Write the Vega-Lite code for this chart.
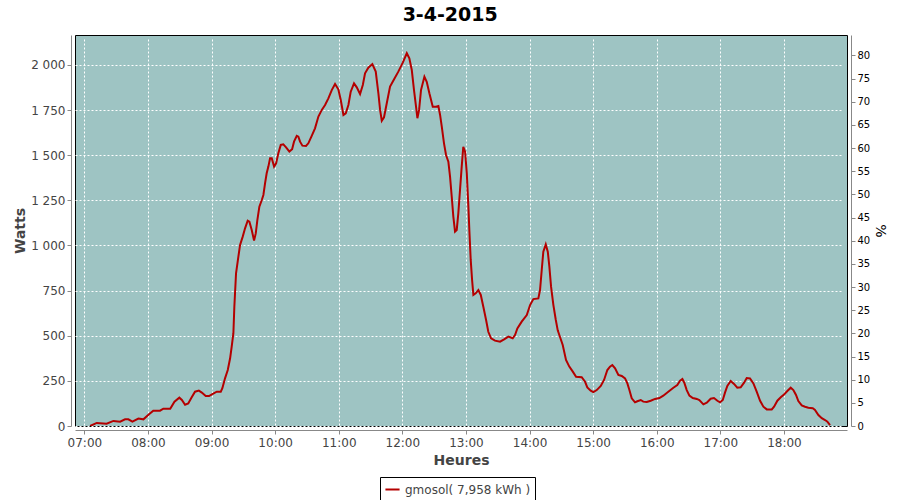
{
  "$schema": "https://vega.github.io/schema/vega-lite/v6.json",
  "width": 772,
  "height": 391,
  "autosize": {"type": "none"},
  "padding": {"left": 75, "top": 35, "right": 53, "bottom": 74},
  "background": "white",
  "config": {
    "locale": {"number": {"decimal": ",", "thousands": " ", "grouping": [3], "currency": ["", " €"]}},
    "view": {"fill": "#9ec4c3", "stroke": "#000000", "strokeWidth": 1},
    "font": "DejaVu Sans",
    "axis": {
      "labelFont": "DejaVu Sans",
      "titleFont": "DejaVu Sans",
      "labelFontSize": 12,
      "labelColor": "#444444",
      "titleColor": "#444444",
      "titleFontSize": 14,
      "titleFontWeight": "bold",
      "domainColor": "#888888",
      "tickColor": "#888888",
      "tickSize": 4,
      "offset": 4,
      "gridColor": "#ffffff",
      "gridDash": [2, 2],
      "gridWidth": 1,
      "gridOpacity": 1
    }
  },
  "title": {"text": "3-4-2015", "fontSize": 19, "fontWeight": "bold", "font": "DejaVu Sans", "color": "#000000", "offset": 10, "anchor": "middle", "frame": "bounds"},
  "data": {"values": [
    {"t":"2015-04-03T07:05:24","w":0},
    {"t":"2015-04-03T07:11:42","w":17},
    {"t":"2015-04-03T07:21:00","w":13},
    {"t":"2015-04-03T07:27:24","w":28},
    {"t":"2015-04-03T07:33:42","w":24},
    {"t":"2015-04-03T07:38:24","w":37},
    {"t":"2015-04-03T07:41:30","w":37},
    {"t":"2015-04-03T07:45:18","w":24},
    {"t":"2015-04-03T07:51:00","w":41},
    {"t":"2015-04-03T07:55:42","w":37},
    {"t":"2015-04-03T08:01:00","w":65},
    {"t":"2015-04-03T08:05:00","w":85},
    {"t":"2015-04-03T08:11:24","w":85},
    {"t":"2015-04-03T08:14:30","w":96},
    {"t":"2015-04-03T08:21:00","w":96},
    {"t":"2015-04-03T08:25:00","w":135},
    {"t":"2015-04-03T08:29:36","w":157},
    {"t":"2015-04-03T08:32:00","w":144},
    {"t":"2015-04-03T08:35:00","w":118},
    {"t":"2015-04-03T08:38:00","w":125},
    {"t":"2015-04-03T08:41:00","w":157},
    {"t":"2015-04-03T08:44:24","w":190},
    {"t":"2015-04-03T08:48:00","w":196},
    {"t":"2015-04-03T08:50:48","w":185},
    {"t":"2015-04-03T08:54:30","w":166},
    {"t":"2015-04-03T08:57:36","w":166},
    {"t":"2015-04-03T09:00:48","w":177},
    {"t":"2015-04-03T09:04:54","w":190},
    {"t":"2015-04-03T09:08:42","w":190},
    {"t":"2015-04-03T09:10:12","w":209},
    {"t":"2015-04-03T09:12:42","w":264},
    {"t":"2015-04-03T09:15:18","w":310},
    {"t":"2015-04-03T09:17:30","w":375},
    {"t":"2015-04-03T09:19:00","w":440},
    {"t":"2015-04-03T09:20:36","w":514},
    {"t":"2015-04-03T09:21:30","w":661},
    {"t":"2015-04-03T09:23:06","w":846},
    {"t":"2015-04-03T09:25:18","w":938},
    {"t":"2015-04-03T09:26:54","w":1003},
    {"t":"2015-04-03T09:29:24","w":1049},
    {"t":"2015-04-03T09:31:36","w":1095},
    {"t":"2015-04-03T09:34:06","w":1137},
    {"t":"2015-04-03T09:35:42","w":1132},
    {"t":"2015-04-03T09:37:54","w":1086},
    {"t":"2015-04-03T09:40:06","w":1027},
    {"t":"2015-04-03T09:41:42","w":1067},
    {"t":"2015-04-03T09:43:12","w":1141},
    {"t":"2015-04-03T09:45:06","w":1215},
    {"t":"2015-04-03T09:47:24","w":1252},
    {"t":"2015-04-03T09:48:54","w":1280},
    {"t":"2015-04-03T09:50:30","w":1345},
    {"t":"2015-04-03T09:52:00","w":1400},
    {"t":"2015-04-03T09:53:36","w":1437},
    {"t":"2015-04-03T09:55:12","w":1483},
    {"t":"2015-04-03T09:56:48","w":1483},
    {"t":"2015-04-03T09:59:00","w":1437},
    {"t":"2015-04-03T10:00:54","w":1455},
    {"t":"2015-04-03T10:03:00","w":1511},
    {"t":"2015-04-03T10:05:18","w":1557},
    {"t":"2015-04-03T10:07:42","w":1560},
    {"t":"2015-04-03T10:10:18","w":1544},
    {"t":"2015-04-03T10:13:24","w":1520},
    {"t":"2015-04-03T10:16:00","w":1533},
    {"t":"2015-04-03T10:17:48","w":1575},
    {"t":"2015-04-03T10:20:24","w":1607},
    {"t":"2015-04-03T10:21:54","w":1603},
    {"t":"2015-04-03T10:23:30","w":1575},
    {"t":"2015-04-03T10:25:42","w":1553},
    {"t":"2015-04-03T10:29:06","w":1551},
    {"t":"2015-04-03T10:31:18","w":1566},
    {"t":"2015-04-03T10:34:30","w":1607},
    {"t":"2015-04-03T10:37:36","w":1649},
    {"t":"2015-04-03T10:40:48","w":1714},
    {"t":"2015-04-03T10:44:00","w":1751},
    {"t":"2015-04-03T10:47:06","w":1778},
    {"t":"2015-04-03T10:50:12","w":1815},
    {"t":"2015-04-03T10:53:24","w":1861},
    {"t":"2015-04-03T10:56:30","w":1895},
    {"t":"2015-04-03T10:59:36","w":1865},
    {"t":"2015-04-03T11:01:54","w":1806},
    {"t":"2015-04-03T11:04:24","w":1723},
    {"t":"2015-04-03T11:06:36","w":1732},
    {"t":"2015-04-03T11:09:06","w":1778},
    {"t":"2015-04-03T11:11:18","w":1852},
    {"t":"2015-04-03T11:14:24","w":1898},
    {"t":"2015-04-03T11:17:00","w":1876},
    {"t":"2015-04-03T11:20:06","w":1839},
    {"t":"2015-04-03T11:22:42","w":1889},
    {"t":"2015-04-03T11:24:48","w":1954},
    {"t":"2015-04-03T11:27:54","w":1985},
    {"t":"2015-04-03T11:31:42","w":2005},
    {"t":"2015-04-03T11:34:54","w":1963},
    {"t":"2015-04-03T11:37:24","w":1843},
    {"t":"2015-04-03T11:39:00","w":1751},
    {"t":"2015-04-03T11:40:36","w":1691},
    {"t":"2015-04-03T11:42:42","w":1710},
    {"t":"2015-04-03T11:45:18","w":1788},
    {"t":"2015-04-03T11:48:24","w":1880},
    {"t":"2015-04-03T11:52:12","w":1921},
    {"t":"2015-04-03T11:56:12","w":1963},
    {"t":"2015-04-03T12:00:24","w":2013},
    {"t":"2015-04-03T12:04:12","w":2065},
    {"t":"2015-04-03T12:06:36","w":2037},
    {"t":"2015-04-03T12:08:54","w":1972},
    {"t":"2015-04-03T12:11:00","w":1861},
    {"t":"2015-04-03T12:12:54","w":1769},
    {"t":"2015-04-03T12:14:12","w":1705},
    {"t":"2015-04-03T12:15:48","w":1751},
    {"t":"2015-04-03T12:17:36","w":1861},
    {"t":"2015-04-03T12:20:48","w":1935},
    {"t":"2015-04-03T12:23:00","w":1907},
    {"t":"2015-04-03T12:25:30","w":1843},
    {"t":"2015-04-03T12:28:42","w":1769},
    {"t":"2015-04-03T12:31:48","w":1769},
    {"t":"2015-04-03T12:34:00","w":1773},
    {"t":"2015-04-03T12:35:36","w":1723},
    {"t":"2015-04-03T12:37:12","w":1658},
    {"t":"2015-04-03T12:39:18","w":1566},
    {"t":"2015-04-03T12:41:12","w":1501},
    {"t":"2015-04-03T12:43:24","w":1464},
    {"t":"2015-04-03T12:45:00","w":1381},
    {"t":"2015-04-03T12:46:36","w":1270},
    {"t":"2015-04-03T12:48:06","w":1160},
    {"t":"2015-04-03T12:49:42","w":1077},
    {"t":"2015-04-03T12:51:18","w":1086},
    {"t":"2015-04-03T12:52:48","w":1178},
    {"t":"2015-04-03T12:54:24","w":1307},
    {"t":"2015-04-03T12:56:00","w":1437},
    {"t":"2015-04-03T12:57:30","w":1547},
    {"t":"2015-04-03T12:59:12","w":1520},
    {"t":"2015-04-03T13:00:48","w":1400},
    {"t":"2015-04-03T13:02:18","w":1215},
    {"t":"2015-04-03T13:03:12","w":1086},
    {"t":"2015-04-03T13:04:30","w":920},
    {"t":"2015-04-03T13:05:48","w":809},
    {"t":"2015-04-03T13:07:00","w":726},
    {"t":"2015-04-03T13:09:12","w":735},
    {"t":"2015-04-03T13:11:42","w":753},
    {"t":"2015-04-03T13:14:00","w":726},
    {"t":"2015-04-03T13:16:24","w":661},
    {"t":"2015-04-03T13:19:00","w":587},
    {"t":"2015-04-03T13:21:06","w":522},
    {"t":"2015-04-03T13:23:42","w":486},
    {"t":"2015-04-03T13:27:24","w":473},
    {"t":"2015-04-03T13:32:12","w":467},
    {"t":"2015-04-03T13:36:00","w":480},
    {"t":"2015-04-03T13:40:00","w":495},
    {"t":"2015-04-03T13:44:06","w":486},
    {"t":"2015-04-03T13:46:18","w":504},
    {"t":"2015-04-03T13:48:30","w":541},
    {"t":"2015-04-03T13:52:36","w":578},
    {"t":"2015-04-03T13:57:24","w":615},
    {"t":"2015-04-03T14:00:30","w":670},
    {"t":"2015-04-03T14:03:36","w":703},
    {"t":"2015-04-03T14:08:18","w":707},
    {"t":"2015-04-03T14:09:54","w":753},
    {"t":"2015-04-03T14:11:30","w":864},
    {"t":"2015-04-03T14:13:00","w":966},
    {"t":"2015-04-03T14:15:18","w":1006},
    {"t":"2015-04-03T14:17:12","w":966},
    {"t":"2015-04-03T14:18:42","w":883},
    {"t":"2015-04-03T14:20:18","w":772},
    {"t":"2015-04-03T14:22:30","w":670},
    {"t":"2015-04-03T14:24:42","w":590},
    {"t":"2015-04-03T14:26:36","w":530},
    {"t":"2015-04-03T14:28:06","w":504},
    {"t":"2015-04-03T14:31:18","w":449},
    {"t":"2015-04-03T14:34:24","w":366},
    {"t":"2015-04-03T14:37:30","w":329},
    {"t":"2015-04-03T14:40:48","w":301},
    {"t":"2015-04-03T14:43:54","w":273},
    {"t":"2015-04-03T14:49:12","w":270},
    {"t":"2015-04-03T14:52:24","w":245},
    {"t":"2015-04-03T14:54:30","w":214},
    {"t":"2015-04-03T14:57:42","w":196},
    {"t":"2015-04-03T15:00:12","w":188},
    {"t":"2015-04-03T15:03:24","w":199},
    {"t":"2015-04-03T15:07:12","w":222},
    {"t":"2015-04-03T15:10:18","w":255},
    {"t":"2015-04-03T15:13:24","w":310},
    {"t":"2015-04-03T15:15:54","w":329},
    {"t":"2015-04-03T15:18:06","w":338},
    {"t":"2015-04-03T15:20:42","w":320},
    {"t":"2015-04-03T15:23:48","w":283},
    {"t":"2015-04-03T15:27:00","w":277},
    {"t":"2015-04-03T15:30:06","w":264},
    {"t":"2015-04-03T15:32:18","w":236},
    {"t":"2015-04-03T15:34:12","w":199},
    {"t":"2015-04-03T15:36:24","w":153},
    {"t":"2015-04-03T15:39:30","w":131},
    {"t":"2015-04-03T15:41:42","w":137},
    {"t":"2015-04-03T15:44:54","w":144},
    {"t":"2015-04-03T15:47:18","w":135},
    {"t":"2015-04-03T15:50:36","w":133},
    {"t":"2015-04-03T15:54:18","w":140},
    {"t":"2015-04-03T15:58:24","w":150},
    {"t":"2015-04-03T16:02:30","w":155},
    {"t":"2015-04-03T16:06:12","w":168},
    {"t":"2015-04-03T16:10:54","w":190},
    {"t":"2015-04-03T16:15:42","w":212},
    {"t":"2015-04-03T16:19:24","w":227},
    {"t":"2015-04-03T16:22:00","w":251},
    {"t":"2015-04-03T16:24:12","w":260},
    {"t":"2015-04-03T16:26:00","w":240},
    {"t":"2015-04-03T16:28:18","w":199},
    {"t":"2015-04-03T16:30:48","w":168},
    {"t":"2015-04-03T16:34:00","w":155},
    {"t":"2015-04-03T16:37:48","w":150},
    {"t":"2015-04-03T16:40:12","w":144},
    {"t":"2015-04-03T16:44:00","w":120},
    {"t":"2015-04-03T16:47:12","w":129},
    {"t":"2015-04-03T16:50:54","w":151},
    {"t":"2015-04-03T16:54:00","w":155},
    {"t":"2015-04-03T16:57:12","w":140},
    {"t":"2015-04-03T16:59:42","w":131},
    {"t":"2015-04-03T17:02:18","w":144},
    {"t":"2015-04-03T17:04:24","w":185},
    {"t":"2015-04-03T17:06:36","w":222},
    {"t":"2015-04-03T17:09:48","w":249},
    {"t":"2015-04-03T17:12:54","w":233},
    {"t":"2015-04-03T17:16:00","w":212},
    {"t":"2015-04-03T17:19:12","w":214},
    {"t":"2015-04-03T17:22:24","w":240},
    {"t":"2015-04-03T17:24:54","w":266},
    {"t":"2015-04-03T17:28:00","w":264},
    {"t":"2015-04-03T17:31:12","w":236},
    {"t":"2015-04-03T17:34:18","w":190},
    {"t":"2015-04-03T17:37:30","w":140},
    {"t":"2015-04-03T17:40:36","w":107},
    {"t":"2015-04-03T17:43:48","w":92},
    {"t":"2015-04-03T17:48:30","w":92},
    {"t":"2015-04-03T17:50:42","w":107},
    {"t":"2015-04-03T17:53:48","w":140},
    {"t":"2015-04-03T17:57:00","w":159},
    {"t":"2015-04-03T18:00:06","w":175},
    {"t":"2015-04-03T18:03:12","w":194},
    {"t":"2015-04-03T18:06:24","w":212},
    {"t":"2015-04-03T18:08:54","w":199},
    {"t":"2015-04-03T18:11:24","w":172},
    {"t":"2015-04-03T18:13:36","w":138},
    {"t":"2015-04-03T18:16:48","w":114},
    {"t":"2015-04-03T18:19:54","w":107},
    {"t":"2015-04-03T18:23:00","w":101},
    {"t":"2015-04-03T18:27:12","w":98},
    {"t":"2015-04-03T18:29:18","w":89},
    {"t":"2015-04-03T18:32:30","w":61},
    {"t":"2015-04-03T18:35:42","w":43},
    {"t":"2015-04-03T18:38:48","w":33},
    {"t":"2015-04-03T18:41:00","w":24},
    {"t":"2015-04-03T18:43:30","w":5}
  ]},
  "layer": [
    {
      "mark": {"type": "line", "strokeWidth": 2, "clip": true},
      "encoding": {
        "x": {
          "field": "t", "type": "temporal",
          "scale": {"domain": [
            {"year": 2015, "month": 4, "date": 3, "hours": 6, "minutes": 51, "seconds": 10},
            {"year": 2015, "month": 4, "date": 3, "hours": 18, "minutes": 59, "seconds": 30}
          ]},
          "axis": {
            "format": "%H:%M",
            "values": [
              {"year": 2015, "month": 4, "date": 3, "hours": 7},
              {"year": 2015, "month": 4, "date": 3, "hours": 8},
              {"year": 2015, "month": 4, "date": 3, "hours": 9},
              {"year": 2015, "month": 4, "date": 3, "hours": 10},
              {"year": 2015, "month": 4, "date": 3, "hours": 11},
              {"year": 2015, "month": 4, "date": 3, "hours": 12},
              {"year": 2015, "month": 4, "date": 3, "hours": 13},
              {"year": 2015, "month": 4, "date": 3, "hours": 14},
              {"year": 2015, "month": 4, "date": 3, "hours": 15},
              {"year": 2015, "month": 4, "date": 3, "hours": 16},
              {"year": 2015, "month": 4, "date": 3, "hours": 17},
              {"year": 2015, "month": 4, "date": 3, "hours": 18}
            ],
            "title": "Heures", "titlePadding": 5, "labelPadding": 3, "labelFlush": false, "labelOverlap": false
          }
        },
        "y": {
          "field": "w", "type": "quantitative",
          "scale": {"domain": [0, 2166], "nice": false, "zero": true},
          "axis": {"title": "Watts", "values": [0, 250, 500, 750, 1000, 1250, 1500, 1750, 2000], "format": ",d", "titlePadding": 3, "labelPadding": 2}
        },
        "color": {
          "datum": "gmosol( 7,958 kWh )",
          "type": "nominal",
          "scale": {"range": ["#b40000"]},
          "legend": {
            "title": null, "orient": "none", "legendX": 305, "legendY": 442,
            "symbolType": "stroke", "symbolStrokeWidth": 2, "symbolSize": 200,
            "strokeColor": "#000000", "padding": 4, "labelFontSize": 12, "labelColor": "#444444", "labelFont": "DejaVu Sans", "fillColor": "#ffffff"
          }
        }
      }
    },
    {
      "mark": {"type": "line", "strokeOpacity": 0, "clip": true},
      "encoding": {
        "x": {"field": "t", "type": "temporal"},
        "y": {
          "field": "w", "type": "quantitative",
          "scale": {"domain": [0, 84.4], "nice": false},
          "axis": {"orient": "right", "title": "%", "grid": false, "values": [0, 5, 10, 15, 20, 25, 30, 35, 40, 45, 50, 55, 60, 65, 70, 75, 80], "labelColor": "#000000", "labelFontSize": 10, "titlePadding": 3, "titleFontWeight": "normal", "titleColor": "#000000", "labelPadding": 2}
        }
      }
    }
  ],
  "resolve": {"scale": {"y": "independent"}}
}
